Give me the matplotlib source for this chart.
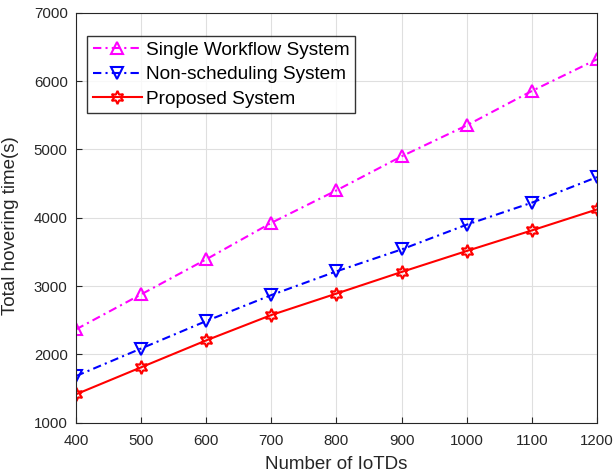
import matplotlib
matplotlib.use("Agg")
import matplotlib.pyplot as plt
import numpy as np

plt.rcParams['font.family'] = ['Liberation Sans', 'DejaVu Sans']

# data
iotds = [400, 500, 600, 700, 800, 900, 1000, 1100, 1200]
single_workflow = [2366, 2878, 3391, 3925, 4400, 4898, 5351, 5854, 6318]
non_scheduling = [1683, 2086, 2488, 2868, 3215, 3536, 3898, 4220, 4594]
proposed = [1416, 1811, 2205, 2576, 2890, 3206, 3513, 3814, 4121]

DASHDOT = (0, (4, 2, 1, 2))

fig = plt.figure(figsize=(6.15, 4.73), dpi=100)
ax = fig.add_axes([0.1236, 0.1063, 0.8471, 0.8669])

ax.plot(iotds, single_workflow, linestyle=DASHDOT, color='#FF00FF', lw=1.5,
        marker='^', markersize=9, markerfacecolor='none', markeredgewidth=1.5,
        label='Single Workflow System')
ax.plot(iotds, non_scheduling, linestyle=DASHDOT, color='#0000FF', lw=1.5,
        marker='v', markersize=9, markerfacecolor='none', markeredgewidth=1.5,
        label='Non-scheduling System')
ax.plot(iotds, proposed, linestyle='-', color='#FF0000', lw=1.5,
        marker=(6, 1, 0), markersize=9.5, markerfacecolor='none',
        markeredgewidth=1.5, label='Proposed System')

ax.set_xlim(400, 1200)
ax.set_ylim(1000, 7000)
ax.set_xticks(np.arange(400, 1201, 100))
ax.set_yticks(np.arange(1000, 7001, 1000))
ax.tick_params(direction='in', labelsize=10.8, colors='#262626', length=4)
ax.tick_params(axis='x', pad=8)
ax.tick_params(axis='y', pad=6)
ax.grid(True, color='#DFDFDF', lw=0.8)
ax.set_axisbelow(True)
for s in ax.spines.values():
    s.set_color('#262626')
    s.set_linewidth(0.8)

ax.set_xlabel('Number of IoTDs', fontsize=13.5, color='#262626')
ax.set_ylabel('Total hovering time(s)', fontsize=13.5, color='#262626')
ax.xaxis.set_label_coords(0.5, -0.082)
ax.yaxis.set_label_coords(-0.109, 0.48)

leg = ax.legend(loc='upper left', bbox_to_anchor=(0.021, 0.944), fontsize=13.7,
                frameon=True, fancybox=False, edgecolor='black',
                handlelength=2.6, borderpad=0.3, labelspacing=0.38,
                handletextpad=0.2, borderaxespad=0)
leg.get_frame().set_linewidth(1.0)

fig.savefig('out.png', dpi=100)
